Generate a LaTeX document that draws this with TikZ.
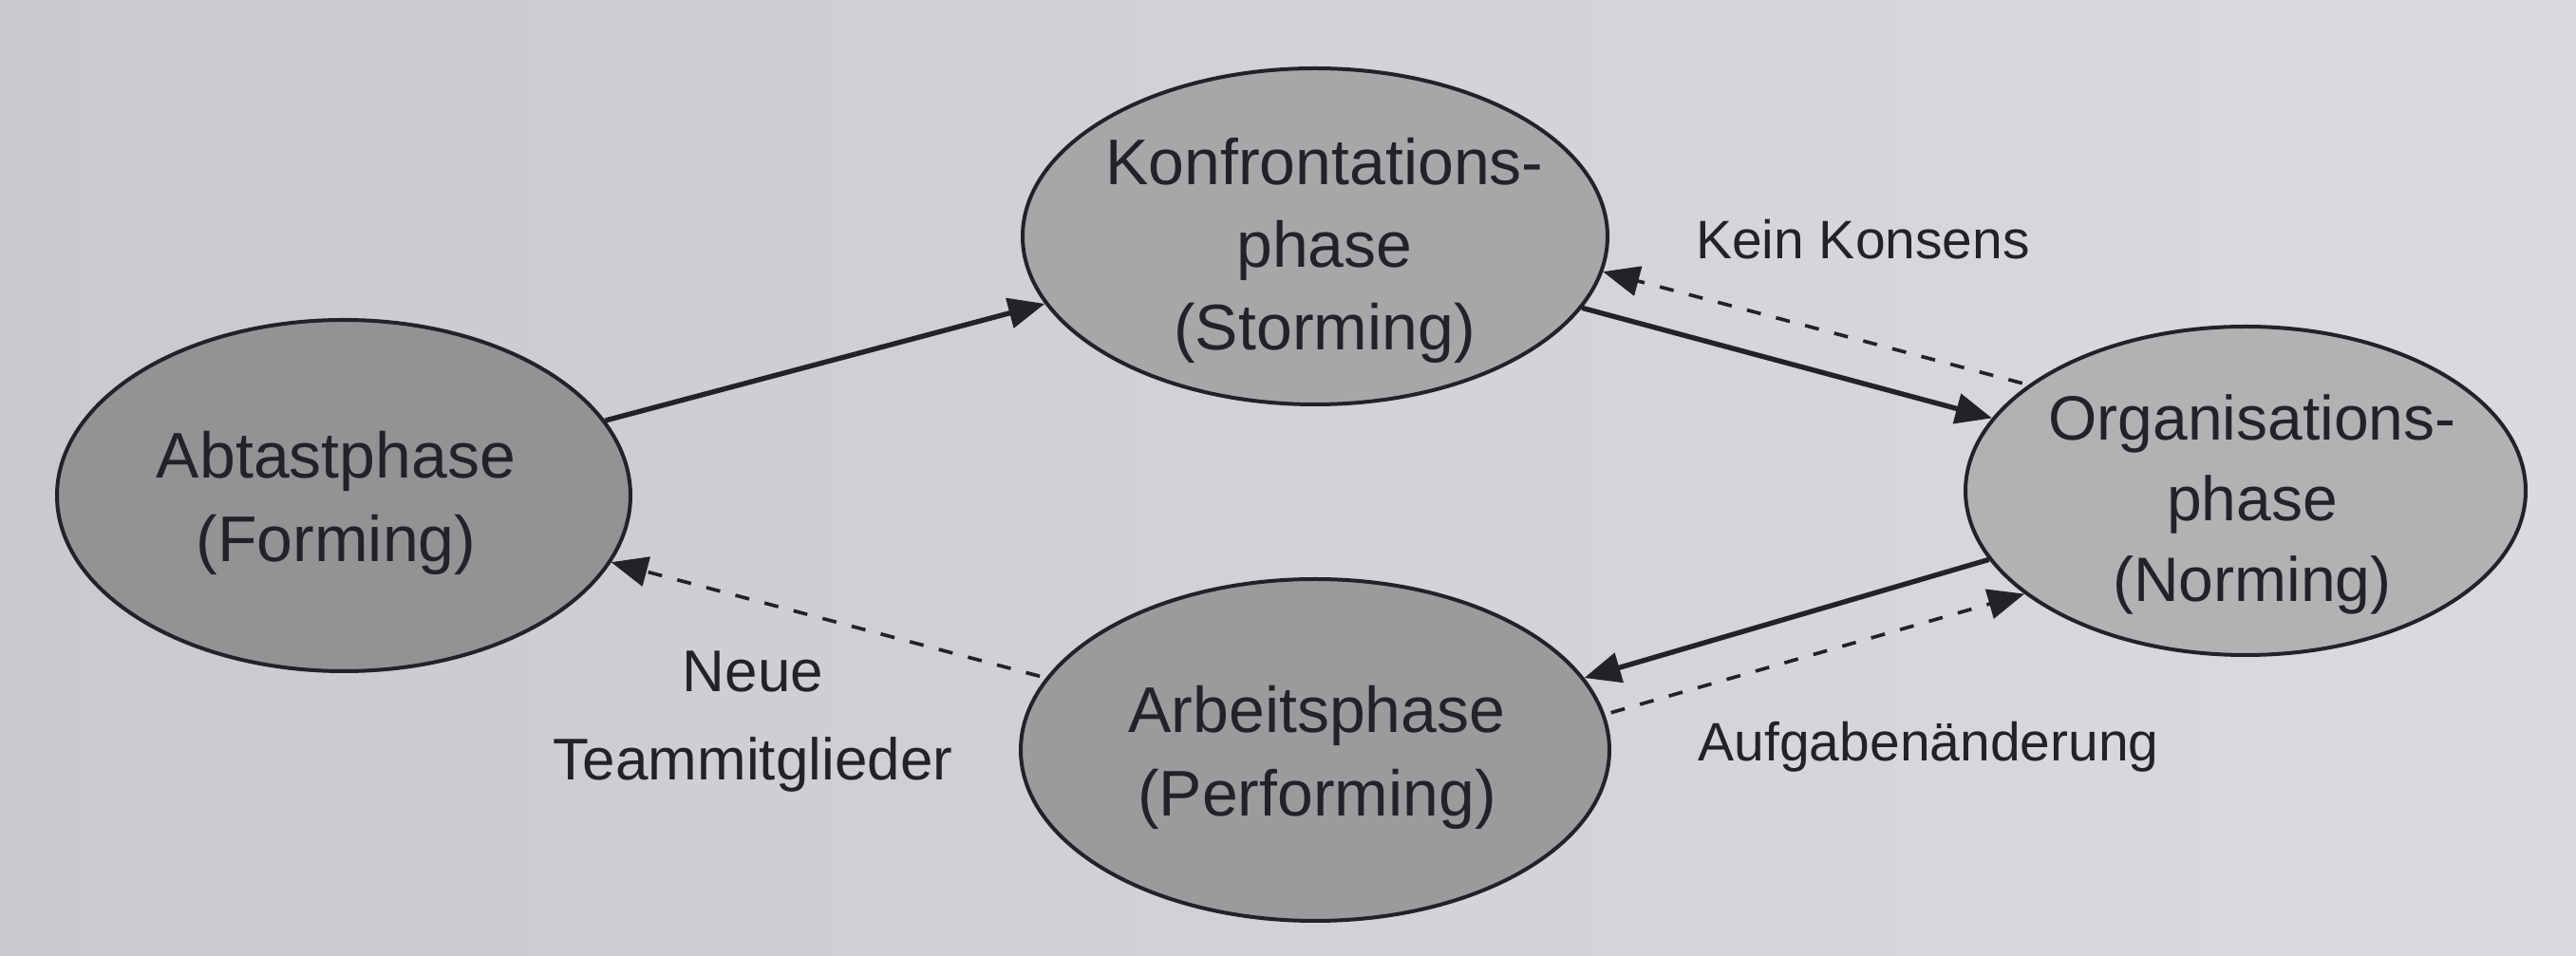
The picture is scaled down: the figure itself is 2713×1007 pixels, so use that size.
\documentclass[tikz,border=0pt]{standalone}
\usepackage{fontspec}
\setmainfont{Liberation Sans}
\usetikzlibrary{shapes.geometric,arrows.meta}
\definecolor{bgL}{HTML}{C9CACD}
\definecolor{bgR}{HTML}{DADBDE}
\definecolor{ink}{HTML}{222228}
\definecolor{fA}{HTML}{939395}
\definecolor{fK}{HTML}{A7A7A9}
\definecolor{fO}{HTML}{B2B2B4}
\definecolor{fP}{HTML}{9B9B9D}
\begin{document}
\begin{tikzpicture}[x=0.3pt,y=-0.3pt,
  phase/.style={ellipse, draw=ink, line width=1.2pt, inner sep=0pt},
  ptext/.style={inner sep=0pt, align=center, text=ink, font=\fontsize{20.4}{26.2}\selectfont},
  ltext/.style={inner sep=0pt, align=center, text=ink, font=\fontsize{17.1}{27.9}\selectfont},
  flow/.style={draw=ink, line width=1.6pt, -{Triangle[length=11.5pt,width=9.5pt]}},
  back/.style={draw=ink, line width=1.1pt, dash pattern=on 4.5pt off 5pt, shorten <=2pt, -{Triangle[length=11.5pt,width=9.5pt]}}
]
\shade[left color=bgL, right color=bgR] (0,0) rectangle (2713,1007);
\useasboundingbox (0,0) rectangle (2713,1007);

\node[phase, fill=fA, minimum width=181.2pt, minimum height=111pt] (A) at (362,522) {};
\node[phase, fill=fK, minimum width=184.8pt, minimum height=106.2pt] (K) at (1385,249) {};
\node[phase, fill=fO, minimum width=177pt, minimum height=103.8pt] (O) at (2365,517) {};
\node[phase, fill=fP, minimum width=186pt, minimum height=108pt] (P) at (1385,790) {};

\node[ptext] (At) at (354,530) {Abtastphase\\(Forming)};
\node[ptext] (Kt) at (1395,264) {Konfrontations-\\phase\\(Storming)};
\node[ptext, font=\fontsize{19.8}{25.5}\selectfont] (Ot) at (2372,531) {Organisations-\\phase\\(Norming)};
\node[ptext] (Pt) at (1387,798) {Arbeitsphase\\(Performing)};

\draw[flow] (A.16) -- (K.194.6);
\draw[flow] (K.345) -- (O.164);
\draw[back] (O.154.5) -- (K.353.3);
\draw[flow] (O.195) -- (P.15.5);
\draw[back] (P.7.2) -- (O.205.2);
\draw[back] (P.165.5) -- (A.346);

\node[ltext, anchor=base] (kk) at (1962,273) {Kein Konsens};
\node[ltext, anchor=base west] (au) at (1788,802) {Aufgabenänderung};
\node[ltext, font=\fontsize{18.6}{27.9}\selectfont] (nt) at (793,760) {Neue\\Teammitglieder};
\end{tikzpicture}
\end{document}
